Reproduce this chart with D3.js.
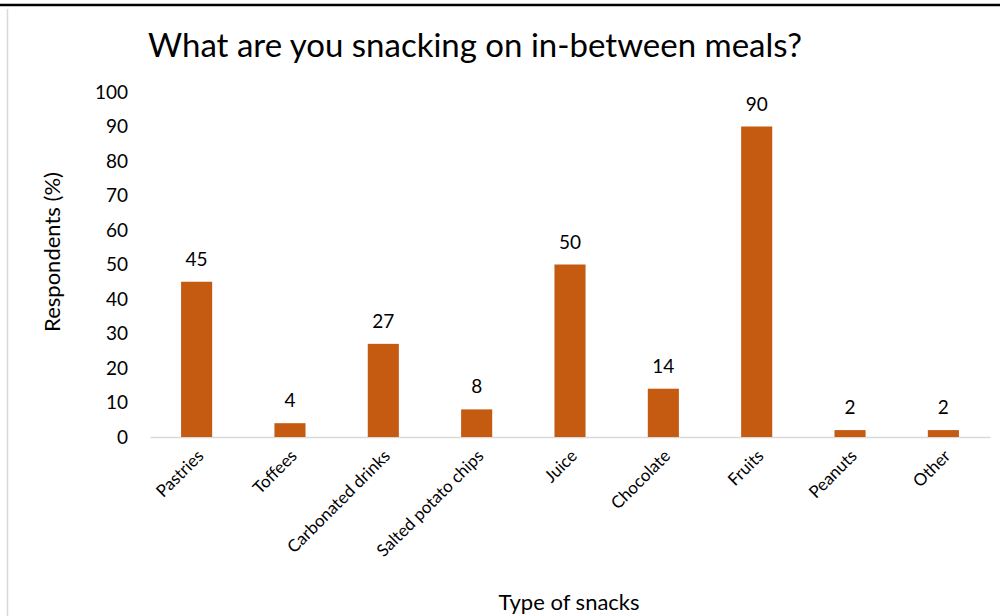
<!DOCTYPE html>
<html>
<head>
<meta charset="utf-8">
<script src="https://cdn.jsdelivr.net/npm/d3@7"></script>
<style>
  body { margin: 0; background: #fff; }
  svg { display: block; }
  svg text { font-family: Lato, "Open Sans", sans-serif; }
</style>
</head>
<body>
<div id="chart"></div>
<script>
// Snack survey data
const categories = ['Pastries', 'Toffees', 'Carbonated drinks', 'Salted potato chips', 'Juice', 'Chocolate', 'Fruits', 'Peanuts', 'Other'];
const values = [45, 4, 27, 8, 50, 14, 90, 2, 2];
const yTicks = [0, 10, 20, 30, 40, 50, 60, 70, 80, 90, 100];

function renderSnackChart() {
  const W = 1008, H = 616;
  const margin = { top: 92, right: 18, bottom: 179, left: 150 };
  const width = W - margin.left - margin.right;
  const height = H - margin.top - margin.bottom;

  const svg = d3.select('#chart').append('svg')
    .attr('width', W)
    .attr('height', H);

  // page frame bits
  svg.append('line')
    .attr('x1', 0).attr('x2', 1000).attr('y1', 5).attr('y2', 5)
    .attr('stroke', '#000').attr('stroke-width', 2.5);
  svg.append('line')
    .attr('x1', 7.5).attr('x2', 7.5).attr('y1', 9).attr('y2', H)
    .attr('stroke', '#d9d9d9').attr('stroke-width', 1.5);

  const g = svg.append('g').attr('transform', `translate(${margin.left},${margin.top})`);

  const x = d3.scaleBand()
    .domain(categories)
    .range([0, width])
    .paddingInner(0.667)
    .paddingOuter(0.333);

  const y = d3.scaleLinear()
    .domain([0, 100])
    .range([height, 0]);

  // y axis labels only
  const yAxis = g.append('g')
    .call(d3.axisLeft(y).tickValues(yTicks).tickSize(0).tickPadding(22));
  yAxis.select('.domain').remove();
  yAxis.selectAll('text')
    .style('font-size', '19px')
    .attr('fill', '#000');

  // x axis
  const xAxis = g.append('g')
    .attr('transform', `translate(0,${height})`)
    .call(d3.axisBottom(x).tickSize(0).tickPadding(0));
  xAxis.select('.domain').attr('stroke', '#d9d9d9').attr('stroke-width', 1.5);
  xAxis.selectAll('text')
    .style('font-size', '17px')
    .attr('fill', '#000')
    .attr('text-anchor', 'end')
    .attr('dy', 0)
    .attr('transform', 'translate(8,20) rotate(-45)');

  g.selectAll('.bar')
    .data(values)
    .enter()
    .append('rect')
    .attr('class', 'bar')
    .attr('x', (d, i) => x(categories[i]))
    .attr('y', d => y(d))
    .attr('width', x.bandwidth())
    .attr('height', d => height - y(d))
    .attr('fill', '#c55a11');

  g.selectAll('.label')
    .data(values)
    .enter()
    .append('text')
    .attr('class', 'label')
    .attr('x', (d, i) => x(categories[i]) + x.bandwidth() / 2)
    .attr('y', d => y(d) - 16)
    .attr('text-anchor', 'middle')
    .style('font-size', '19px')
    .attr('fill', '#000')
    .text(d => d);

  svg.append('text')
    .attr('x', 475).attr('y', 57)
    .attr('text-anchor', 'middle')
    .style('font-size', '33px')
    .attr('fill', '#000')
    .text('What are you snacking on in-between meals?');

  svg.append('text')
    .attr('transform', 'translate(60,252) rotate(-90)')
    .attr('text-anchor', 'middle')
    .style('font-size', '22px')
    .attr('fill', '#000')
    .text('Respondents (%)');

  svg.append('text')
    .attr('x', 569).attr('y', 610)
    .attr('text-anchor', 'middle')
    .style('font-size', '22px')
    .attr('fill', '#000')
    .text('Type of snacks');
}

renderSnackChart();
</script>
</body>
</html>
